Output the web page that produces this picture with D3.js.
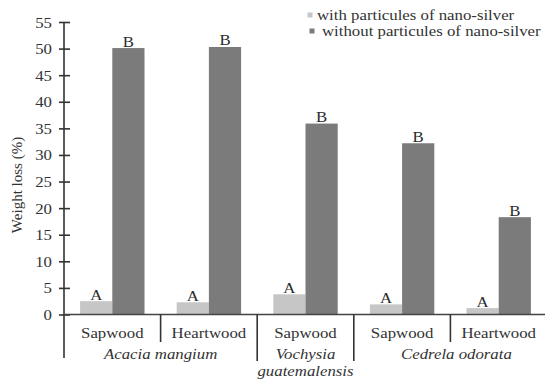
<!DOCTYPE html>
<html>
<head>
<meta charset="utf-8">
<script src="https://cdn.jsdelivr.net/npm/d3@7"></script>
<style>
  body { margin: 0; background: #fff; }
  svg { display: block; }
</style>
</head>
<body>
<svg id="chart" width="545" height="381"></svg>
<script>
// Wood samples along the x axis
const categories = ["AM-S", "AM-H", "VG-S", "CO-S", "CO-H"];
const woodTypes = ["Sapwood", "Heartwood", "Sapwood", "Sapwood", "Heartwood"];
const species = [
  { name: ["Acacia mangium"], from: 0, to: 1 },
  { name: ["Vochysia", "guatemalensis"], from: 2, to: 2 },
  { name: ["Cedrela odorata"], from: 3, to: 4 }
];
const seriesNames = ["with particules of nano-silver", "without particules of nano-silver"];
const withSilver = [2.5, 2.3, 3.8, 1.9, 1.2];
const withoutSilver = [50.1, 50.3, 35.9, 32.2, 18.3];
const withLetters = ["A", "A", "A", "A", "A"];
const withoutLetters = ["B", "B", "B", "B", "B"];
const yTicks = [0, 5, 10, 15, 20, 25, 30, 35, 40, 45, 50, 55];
const colors = ["#c6c6c6", "#7b7b7b"];

const FONT = "'Liberation Serif', 'Times New Roman', Times, 'DejaVu Serif', serif";
const TEXT = "#333";
const STRETCH = 1.2; // type is set slightly wide

const svg = d3.select("#chart");
const plotLeft = 64, plotRight = 547, plotTop = 22, plotBottom = 314.5;

const y = d3.scaleLinear().domain([0, 55]).range([plotBottom, plotTop]);
const x0 = d3.scaleBand().domain(categories).range([plotLeft, plotRight]).paddingInner(0).paddingOuter(0);
const x1 = d3.scaleBand().domain([0, 1]).range([0, x0.bandwidth()]).paddingInner(0).paddingOuter(0.5);

// draw a horizontally widened text label anchored at (x, y)
function label(parent, x, yy, str, opts = {}) {
  const t = parent.append("text")
    .attr("transform", `translate(${x},${yy}) scale(${STRETCH},1)`)
    .attr("text-anchor", opts.anchor || "middle")
    .style("font-family", FONT)
    .style("font-size", (opts.size || 14) + "px")
    .style("fill", opts.fill || TEXT)
    .text(str);
  if (opts.italic) t.style("font-style", "italic");
  return t;
}

// Bars
const rows = categories.map((c, i) => ({
  cat: c,
  vals: [
    { s: 0, v: withSilver[i], letter: withLetters[i] },
    { s: 1, v: withoutSilver[i], letter: withoutLetters[i] }
  ]
}));

const groups = svg.append("g").selectAll("g").data(rows).join("g")
  .attr("transform", d => `translate(${x0(d.cat)},0)`);

groups.selectAll("rect").data(d => d.vals).join("rect")
  .attr("x", d => x1(d.s))
  .attr("width", x1.bandwidth())
  .attr("y", d => y(d.v))
  .attr("height", d => y(0) - y(d.v))
  .attr("fill", d => colors[d.s]);

groups.each(function (d) {
  const gg = d3.select(this);
  d.vals.forEach(v => {
    label(gg, x1(v.s) + x1.bandwidth() / 2, y(v.v) - 1.5, v.letter, { size: 14, fill: "#2a2a2a" });
  });
});

// Y axis
const yAxis = d3.axisLeft(y).tickValues(yTicks).tickSize(0).tickPadding(14);
const ya = svg.append("g").attr("transform", `translate(${plotLeft},0)`).call(yAxis);
ya.select(".domain").remove();
ya.selectAll(".tick text").remove();
ya.selectAll(".tick").each(function (d) {
  label(d3.select(this), -12, 5, d, { anchor: "end", size: 14 });
});
ya.selectAll(".tick").append("line").attr("x1", -5).attr("x2", 6).attr("stroke", "#333").attr("stroke-width", 1.6);
svg.append("line").attr("x1", plotLeft).attr("x2", plotLeft).attr("y1", plotTop).attr("y2", 358)
  .attr("stroke", "#333").attr("stroke-width", 1.6);

// X axis baseline
svg.append("line").attr("x1", plotLeft).attr("x2", 545).attr("y1", y(0)).attr("y2", y(0))
  .attr("stroke", "#444").attr("stroke-width", 1.6);

// Category separators: long at species boundaries, short within a species
categories.forEach((c, i) => {
  if (i === 0) return;
  const boundary = species.some(s => s.from === i);
  svg.append("line")
    .attr("x1", x0(c)).attr("x2", x0(c))
    .attr("y1", y(0)).attr("y2", boundary ? 361 : 342)
    .attr("stroke", "#333").attr("stroke-width", 1.6);
});

// Wood type labels
categories.forEach((c, i) => {
  label(svg, x0(c) + x0.bandwidth() / 2, 338, woodTypes[i], { size: 14 });
});

// Species labels
species.forEach(s => {
  const cx = (x0(categories[s.from]) + x0(categories[s.to]) + x0.bandwidth()) / 2;
  s.name.forEach((line, k) => {
    label(svg, cx + (s.from === 3 ? 6 : 0), 359 + k * 17, line, { size: 14, italic: true });
  });
});

// Y axis title
svg.append("text")
  .attr("transform", "translate(22,185) rotate(-90)")
  .attr("text-anchor", "middle")
  .style("font-family", FONT)
  .style("font-size", "15px")
  .style("fill", TEXT)
  .text("Weight loss (%)");

// Legend
const leg = svg.append("g").attr("transform", "translate(310,15)");
seriesNames.forEach((n, i) => {
  leg.append("rect").attr("x", i * 2 - 2.5).attr("y", i * 16 - 2.5).attr("width", 5).attr("height", 5).attr("fill", colors[i]);
  label(leg, 7 + i * 5, i * 16 + 4.5, n, { anchor: "start", size: 14 });
});
</script>
</body>
</html>
